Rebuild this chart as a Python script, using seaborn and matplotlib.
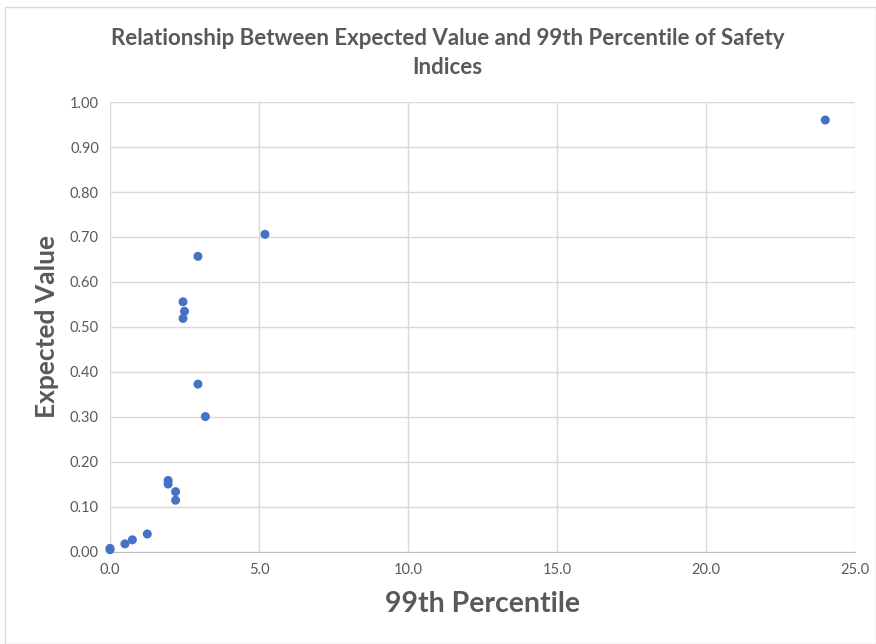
import pandas as pd
import matplotlib.pyplot as plt
import seaborn as sns
from matplotlib.patches import Rectangle

percentile_99 = [24.0, 5.2, 2.95, 2.45, 2.5, 2.45, 2.95, 3.2, 1.95, 1.95,
                 2.2, 2.2, 1.25, 0.75, 0.5, 0.0, 0.0]
expected_value = [0.96, 0.706, 0.657, 0.556, 0.535, 0.519, 0.373, 0.301, 0.159, 0.151,
                  0.134, 0.115, 0.04, 0.027, 0.018, 0.008, 0.005]

x_ticks = [0, 5, 10, 15, 20, 25]
y_ticks = [0.0, 0.1, 0.2, 0.3, 0.4, 0.5, 0.6, 0.7, 0.8, 0.9, 1.0]

df = pd.DataFrame({'99th Percentile': percentile_99, 'Expected Value': expected_value})

sns.set_style('white')
plt.rcParams['font.family'] = ['Lato', 'DejaVu Sans']

grey = '#595959'
grid = '#d9d9d9'

fig = plt.figure(figsize=(8.76, 6.44), dpi=100)
fig.patches.append(Rectangle((0.006, 0.0), 0.994, 0.989, transform=fig.transFigure,
                             fill=False, edgecolor=grid, linewidth=1))
ax = fig.add_axes([0.1256, 0.1429, 0.8505, 0.6987])

sns.scatterplot(data=df, x='99th Percentile', y='Expected Value', ax=ax,
                color='#4472C4', s=42, edgecolor='none', zorder=3, clip_on=False)

ax.set_xlim(0, 25)
ax.set_ylim(0, 1)
ax.set_xticks(x_ticks)
ax.set_xticklabels([f'{v:.1f}' for v in x_ticks])
ax.set_yticks(y_ticks)
ax.set_yticklabels([f'{v:.2f}' for v in y_ticks])
ax.grid(True, color=grid, linewidth=1)
ax.set_axisbelow(True)
for side in ['top', 'right', 'left']:
    ax.spines[side].set_visible(False)
ax.spines['bottom'].set_color('#bfbfbf')
ax.tick_params(axis='both', colors=grey, labelsize=10.5, length=0, pad=8)

ax.set_xlabel('99th Percentile', fontsize=20.5, fontweight='bold', color=grey, labelpad=10)
ax.set_ylabel('Expected Value', fontsize=19, fontweight='bold', color=grey, labelpad=8)
fig.text(0.511, 0.918, 'Relationship Between Expected Value and 99th Percentile of Safety\nIndices',
         ha='center', va='center', fontsize=16, fontweight='bold', color=grey, linespacing=1.45)

fig.savefig('out.png', dpi=100)
plt.close(fig)
